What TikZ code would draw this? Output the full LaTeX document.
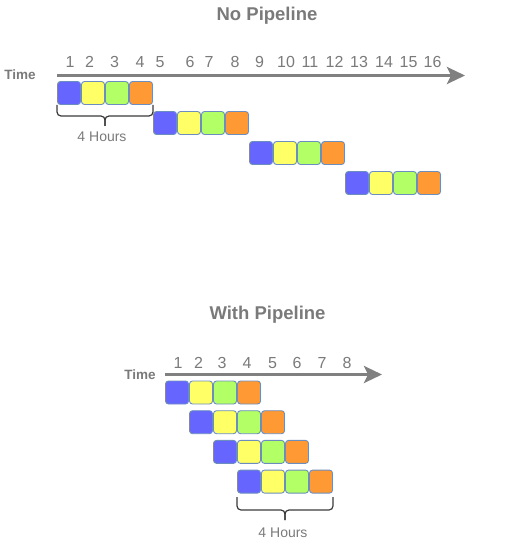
\documentclass[tikz,border=0pt]{standalone}
\usepackage{fontspec}
\setmainfont{Liberation Sans}
\usetikzlibrary{arrows.meta}
\definecolor{cblue}{HTML}{6666FF}
\definecolor{cyellow}{HTML}{FFFF66}
\definecolor{cgreen}{HTML}{B3FF66}
\definecolor{corange}{HTML}{FF9933}
\definecolor{cborder}{HTML}{6C8EBF}
\definecolor{txtgray}{HTML}{7A7A7A}
\definecolor{arrgray}{HTML}{808080}
\definecolor{brgray}{HTML}{3A3A3A}
\tikzset{
  box/.style={draw=cborder, line width=0.9pt, rounded corners=3pt, minimum width=23pt, minimum height=23pt, inner sep=0pt},
  title/.style={font=\bfseries\fontsize{18.5}{20}\selectfont, text=txtgray, inner sep=0pt},
  timelbl/.style={font=\bfseries\fontsize{13.5}{15}\selectfont, text=txtgray, inner sep=0pt},
  num/.style={font=\fontsize{16}{18}\selectfont, text=txtgray, inner sep=0pt, anchor=base},
  hrs/.style={font=\fontsize{14}{16}\selectfont, text=txtgray, inner sep=0pt},
  timeline/.style={draw=arrgray, line width=3pt, -{Stealth[length=18pt,width=17pt,inset=4pt]}},
  bracestyle/.style={draw=brgray, line width=1.2pt, rounded corners=4pt},
}
\newcommand\hbr[5]{% x1, x2, ytop, yhoriz, ytip
  \draw[bracestyle] (#1,#3) -- (#1,#4) -- ({(#1+#2)/2},#4) -- ({(#1+#2)/2},#5);
  \draw[bracestyle] (#2,#3) -- (#2,#4) -- ({(#1+#2)/2},#4) -- ({(#1+#2)/2},#5);
}
\begin{document}
\begin{tikzpicture}[x=1pt,y=-1pt]
\useasboundingbox (0,0) rectangle (521,556);
% ---------- No Pipeline ----------
\node[title] (t1) at (267,16) {No Pipeline};
\node[timelbl] (time1) at (20,75) {Time};
\coordinate (a1s) at (57,75.5);
\coordinate (a1e) at (465,75.5);
\draw[timeline] (a1s) -- (a1e);
\foreach \n/\x in {1/70,2/89.5,3/114.5,4/140,5/160,6/190,7/209,8/235,9/259.5,10/286,11/310,12/334.5,13/359,14/384,15/408.5,16/432.5}
  \node[num] (n1-\n) at (\x,68) {\n};
\foreach \r in {0,1,2,3}{
  \foreach \k/\c in {0/cblue,1/cyellow,2/cgreen,3/corange}{
    \node[box, fill=\c] (a-\r-\k) at ({69+96*\r+24*\k},{93+30*\r}) {};
  }
}
\hbr{57}{153}{105}{116}{126}
\node[hrs] (h1) at (102,137) {4 Hours};
% ---------- With Pipeline ----------
\node[title] (t2) at (267.5,315) {With Pipeline};
\node[timelbl] (time2) at (140,375) {Time};
\coordinate (a2s) at (165,374.5);
\coordinate (a2e) at (382,374.5);
\draw[timeline] (a2s) -- (a2e);
\foreach \n/\x in {1/178,2/198.5,3/222,4/247,5/272.5,6/297,7/322,8/347}
  \node[num] (n2-\n) at (\x,368) {\n};
\foreach \r in {0,1,2,3}{
  \foreach \k/\c in {0/cblue,1/cyellow,2/cgreen,3/corange}{
    \node[box, fill=\c] (b-\r-\k) at ({177+24*\r+24*\k},{392.5+29.7*\r}) {};
  }
}
\hbr{237}{333}{497}{510}{520}
\node[hrs] (h2) at (283,533) {4 Hours};
\end{tikzpicture}
\end{document}
